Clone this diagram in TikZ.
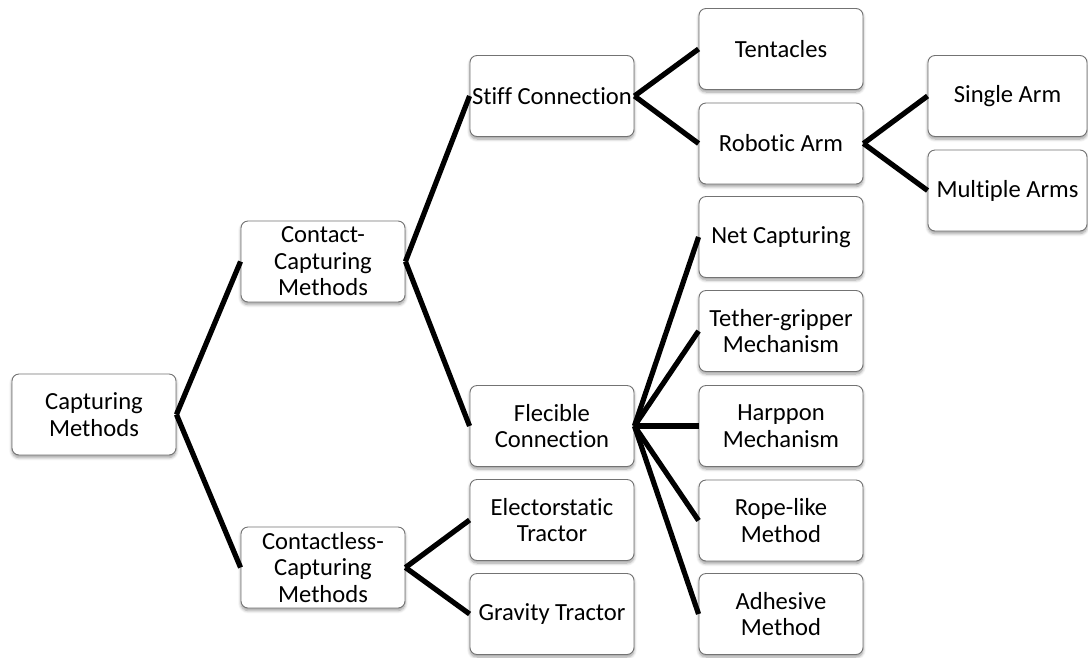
\documentclass[tikz,border=0pt]{standalone}
\usepackage{fontspec}
\setmainfont{Carlito}[RawFeature=-liga]
\usetikzlibrary{shadows.blur}
\tikzset{
  box/.style={draw=black!55, line width=0.9pt, fill=white, rounded corners=7pt,
    minimum width=164pt, minimum height=81pt, inner sep=0pt, align=center,
    font=\fontsize{24.6}{26.5}\selectfont,
    blur shadow={shadow xshift=0pt, shadow yshift=-2.5pt, shadow blur steps=6, shadow opacity=40, shadow blur radius=3pt}},
  link/.style={line width=5.2pt, black}
}
\begin{document}
\begin{tikzpicture}[x=1pt, y=-1pt]
\useasboundingbox (0,0) rectangle (1088,657);
% level 0
\node[box] (cap) at (94,414.5) {Capturing\\Methods};
% level 1
\node[box] (contact) at (323,261.5) {Contact-\\Capturing\\Methods};
\node[box] (contactless) at (323,567.5) {Contactless-\\Capturing\\Methods};
% level 2
\node[box] (stiff) at (552,96) {Stiff Connection};
\node[box] (flex) at (552,426) {Flecible\\Connection};
\node[box] (electro) at (552,520) {Electorstatic\\Tractor};
\node[box] (gravity) at (552,614) {Gravity Tractor};
% level 3
\node[box] (tent) at (781,49) {Tentacles};
\node[box] (robot) at (781,143.5) {Robotic Arm};
\node[box] (net) at (781,237) {Net Capturing};
\node[box] (tether) at (781,331) {Tether-gripper\\Mechanism};
\node[box] (harp) at (781,426) {Harppon\\Mechanism};
\node[box] (rope) at (781,520.5) {Rope-like\\Method};
\node[box] (adh) at (781,614) {Adhesive\\Method};
% level 4
\node[box, minimum width=159pt] (single) at (1007.5,96) {Single Arm};
\node[box, minimum width=159pt] (multi) at (1007.5,190.5) {Multiple Arms};
% connectors
\foreach \a/\b in {cap/contact, cap/contactless,
    contact/stiff, contact/flex,
    contactless/electro, contactless/gravity,
    stiff/tent, stiff/robot,
    flex/net, flex/tether, flex/harp, flex/rope, flex/adh,
    robot/single, robot/multi}
  \draw[link] (\a.east) -- (\b.west);
\end{tikzpicture}
\end{document}
